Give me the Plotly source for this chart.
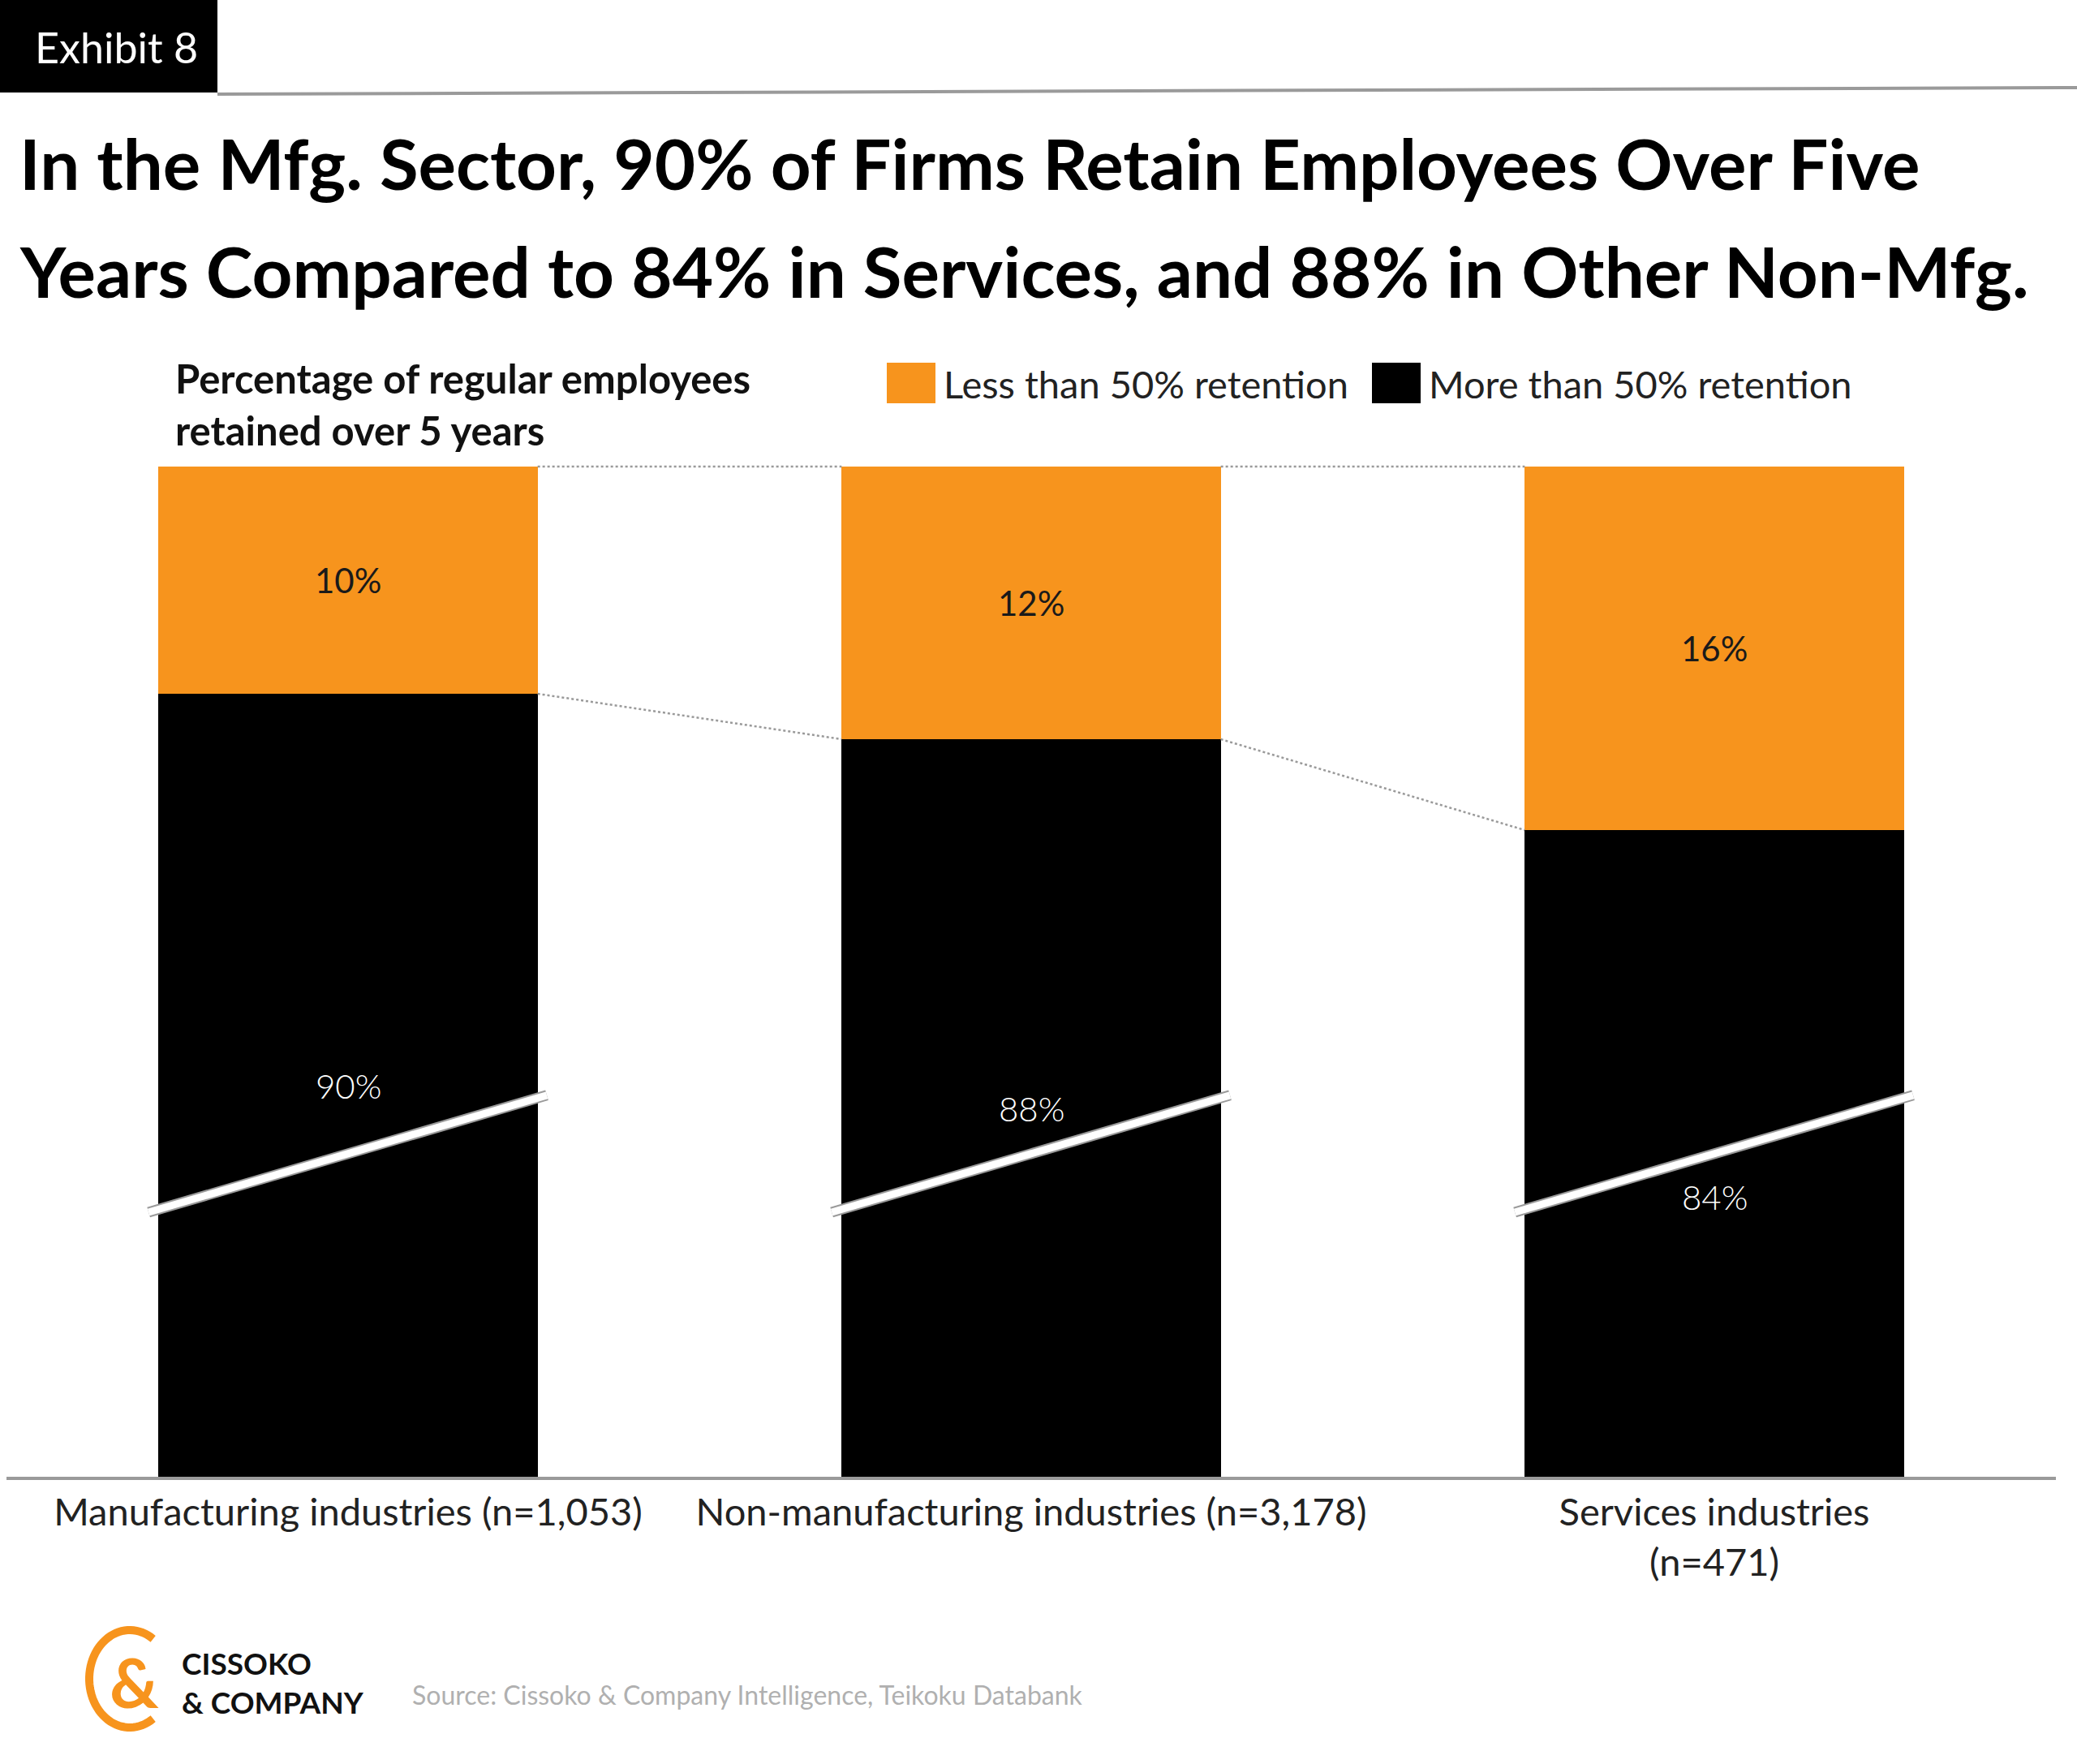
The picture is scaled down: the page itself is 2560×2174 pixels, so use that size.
import numpy as np
import plotly.graph_objects as go

# ---------------- data ----------------
categories = [
    "Manufacturing industries (n=1,053)",
    "Non-manufacturing industries (n=3,178)",
    "Services industries<br>(n=471)",
]
more_than_50 = [90, 88, 84]   # % of firms retaining more than 50%
less_than_50 = [10, 12, 16]   # % of firms retaining less than 50%
series_names = ["Less than 50% retention", "More than 50% retention"]

title_lines = [
    "In the Mfg. Sector, 90% of Firms Retain Employees Over Five",
    "Years Compared to 84% in Services, and 88% in Other Non-Mfg.",
]
subtitle_lines = ["Percentage of regular employees", "retained over 5 years"]
source_text = "Source: Cissoko & Company Intelligence, Teikoku Databank"

# ---------------- style ----------------
ORANGE = "#F7941D"
BLACK = "#000000"
GRAY = "#9a9a9a"
TITLE_FONT = "Lato, Roboto, sans-serif"
BODY_FONT = "Lato, Open Sans, sans-serif"

W, H = 2560, 2174
L, R, T, B = 8, 26, 561, 354
plot_w = W - L - R
plot_h = H - T - B
Y_MIN, Y_MAX = 55.54, 100.5
X_MIN, X_MAX = -0.5, 2.5
BAR_W = 0.555
LABEL_SHIFT = [0, 0, -53]


def fx(px):
    return (px - L) / plot_w


def fy(py):
    return (H - B - py) / plot_h


x = list(range(len(categories)))
totals = [a + b for a, b in zip(more_than_50, less_than_50)]

fig = go.Figure()
fig.add_trace(go.Bar(x=x, y=more_than_50, width=BAR_W, marker=dict(color=BLACK, line=dict(width=0)),
                     name=series_names[1], showlegend=False))
fig.add_trace(go.Bar(x=x, y=less_than_50, width=BAR_W, marker=dict(color=ORANGE, line=dict(width=0)),
                     name=series_names[0], showlegend=False))

# dotted connectors between bars
for i in range(len(x) - 1):
    for ys in ([more_than_50[i], more_than_50[i + 1]], [totals[i], totals[i + 1]]):
        fig.add_trace(go.Scatter(x=[x[i] + BAR_W / 2, x[i + 1] - BAR_W / 2], y=ys, mode="lines",
                                 line=dict(color=GRAY, width=2.5, dash="dot"), showlegend=False,
                                 hoverinfo="skip", cliponaxis=False))

shapes = []
annotations = []

# axis-break marks
for i in x:
    for col, wdt in ((GRAY, 13), ("#ffffff", 9)):
        shapes.append(dict(type="line", xref="x", yref="y", x0=i - 0.292, y0=67.18, x1=i + 0.291, y1=72.33,
                           line=dict(color=col, width=wdt), layer="above"))

# value labels
for i in x:
    annotations.append(dict(xref="x", yref="y", x=i, y=more_than_50[i] + less_than_50[i] / 2,
                            text=f"{less_than_50[i]}%", showarrow=False,
                            font=dict(family=BODY_FONT, size=42, color="#1a1a1a")))
    annotations.append(dict(xref="x", yref="y", x=i, y=(Y_MIN + more_than_50[i]) / 2, yshift=LABEL_SHIFT[i],
                            text=f"{more_than_50[i]}%", showarrow=False,
                            font=dict(family=BODY_FONT, size=42, color="#ffffff", weight=300)))

# header box + rule
shapes.append(dict(type="rect", xref="paper", yref="paper", x0=fx(0), x1=fx(268), y0=fy(0), y1=fy(114),
                   fillcolor=BLACK, line=dict(width=0)))
shapes.append(dict(type="line", xref="paper", yref="paper", x0=fx(268), y0=fy(116), x1=fx(2560), y1=fy(108),
                   line=dict(color=GRAY, width=4)))
annotations.append(dict(xref="paper", yref="paper", x=fx(143), y=fy(58), text="Exhibit 8", showarrow=False,
                        xanchor="center", yanchor="middle",
                        font=dict(family=BODY_FONT, size=52, color="#ffffff")))

# title
for t, yc in zip(title_lines, (200, 334)):
    annotations.append(dict(xref="paper", yref="paper", x=fx(22), y=fy(yc), text=f"<b>{t}</b>", showarrow=False,
                            xanchor="left", yanchor="middle",
                            font=dict(family=TITLE_FONT, size=87, color=BLACK)))

# subtitle
annotations.append(dict(xref="paper", yref="paper", x=fx(214), y=fy(498),
                        text="<br>".join(f"<b>{t}</b>" for t in subtitle_lines), showarrow=False,
                        xanchor="left", yanchor="middle", align="left",
                        font=dict(family=BODY_FONT, size=49, color="#111111")))

# legend (manual)
for (x0, x1), col, name, tx in (((1093, 1153), ORANGE, series_names[0], 1161),
                                ((1691, 1751), BLACK, series_names[1], 1759)):
    shapes.append(dict(type="rect", xref="paper", yref="paper", x0=fx(x0), x1=fx(x1), y0=fy(447), y1=fy(497),
                       fillcolor=col, line=dict(width=0)))
    annotations.append(dict(xref="paper", yref="paper", x=fx(tx), y=fy(473), text=name, showarrow=False,
                            xanchor="left", yanchor="middle",
                            font=dict(family=BODY_FONT, size=47, color="#222222")))

# footer: logo + source
t = np.linspace(np.radians(55), np.radians(305), 60)
cx, cy, rx, ry = 160, 2069, 50, 60
pts = [(fx(cx + rx * np.cos(a)), fy(cy - ry * np.sin(a))) for a in t]
path = "M " + " L ".join(f"{px:.5f},{py:.5f}" for px, py in pts)
shapes.append(dict(type="path", xref="paper", yref="paper", path=path, line=dict(color=ORANGE, width=10)))
annotations.append(dict(xref="paper", yref="paper", x=fx(165), y=fy(2072), text="<b>&</b>", showarrow=False,
                        xanchor="center", yanchor="middle",
                        font=dict(family=BODY_FONT, size=84, color=ORANGE)))
annotations.append(dict(xref="paper", yref="paper", x=fx(222), y=fy(2073),
                        text="<b>CISSOKO</b><br><b>& COMPANY</b>", showarrow=False, align="left",
                        xanchor="left", yanchor="middle", font=dict(family=BODY_FONT, size=37, color="#111111")))
annotations.append(dict(xref="paper", yref="paper", x=fx(506), y=fy(2088), text=source_text, showarrow=False,
                        xanchor="left", yanchor="middle", font=dict(family=BODY_FONT, size=32, color="#b0b0b0")))

fig.update_layout(
    width=W, height=H,
    margin=dict(l=L, r=R, t=T, b=B, pad=0),
    paper_bgcolor="#ffffff", plot_bgcolor="#ffffff",
    barmode="stack", bargap=0,
    showlegend=False,
    shapes=shapes, annotations=annotations,
    xaxis=dict(range=[X_MIN, X_MAX], tickmode="array", tickvals=x, ticktext=categories,
               showline=True, linecolor=GRAY, linewidth=4, showgrid=False, zeroline=False,
               ticks="", ticklabelstandoff=0,
               tickfont=dict(family=BODY_FONT, size=47, color="#222222")),
    yaxis=dict(range=[Y_MIN, Y_MAX], visible=False, showgrid=False, zeroline=False),
)

fig.write_html("out.html")
